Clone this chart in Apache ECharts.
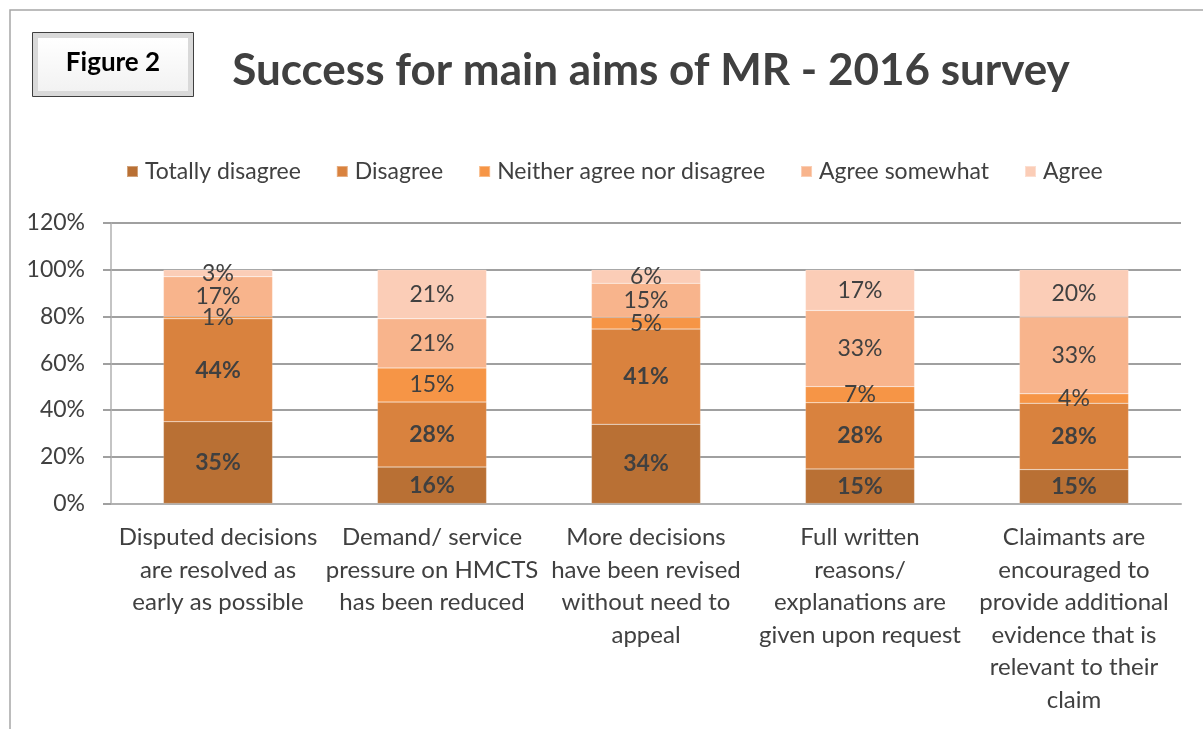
<!DOCTYPE html>
<html>
<head>
    <meta charset="utf-8">
    <title>Success for main aims of MR - 2016 survey</title>
    <script src="https://cdn.jsdelivr.net/npm/echarts@6/dist/echarts.min.js"></script>
    <style>
        html, body { margin: 0; padding: 0; background: #fff; }
        #chart1 { width: 1203px; height: 729px; }
    </style>
</head>
<body>
<div id="chart1"></div>
<script type="text/javascript">
    // categories and tick labels
    var aims = [
        'Disputed decisions\nare resolved as\nearly as possible',
        'Demand/ service\npressure on HMCTS\nhas been reduced',
        'More decisions\nhave been revised\nwithout need to\nappeal',
        'Full written\nreasons/\nexplanations are\ngiven upon request',
        'Claimants are\nencouraged to\nprovide additional\nevidence that is\nrelevant to their\nclaim'
    ];
    var yTicks = [0, 20, 40, 60, 80, 100, 120];

    // series values (percent of respondents, one per aim)
    var totallyDisagree = [35.0, 15.6, 33.9, 14.8, 14.5];
    var disagree        = [44.0, 27.8, 40.7, 28.3, 28.4];
    var neither         = [1.0, 14.6, 5.0, 6.9, 4.0];
    var agreeSomewhat   = [17.0, 21.0, 14.6, 32.6, 32.9];
    var agree           = [3.0, 21.0, 5.8, 17.4, 20.2];

    var seriesNames = ['Totally disagree', 'Disagree', 'Neither agree nor disagree', 'Agree somewhat', 'Agree'];
    var seriesData = [totallyDisagree, disagree, neither, agreeSomewhat, agree];
    var colors = ['#b97034', '#d9823e', '#f69546', '#f8b48c', '#fbcdb7'];

    var font = 'Lato, "Open Sans", sans-serif';
    var textColor = '#404040';
    var lineColor = '#a0a0a0';

    var myChart1 = echarts.init(document.getElementById('chart1'));

    var series = seriesData.map(function (d, i) {
        return {
            name: seriesNames[i],
            type: 'bar',
            stack: 'total',
            barWidth: '51%',
            data: d,
            itemStyle: { color: colors[i], borderColor: 'rgba(255,255,255,0.35)', borderWidth: 0.5 },
            label: {
                show: true,
                position: 'inside',
                color: textColor,
                fontFamily: font,
                fontSize: 23,
                fontWeight: i < 2 ? 'bold' : 'normal',
                formatter: function (p) { return Math.round(p.value) + '%'; }
            }
        };
    });

    myChart1.setOption({
        animation: false,
        color: colors,
        textStyle: { fontFamily: font },
        graphic: [
            // outer frame
            { type: 'rect', shape: { x: 10, y: 10, width: 1220, height: 740 },
              style: { fill: 'none', stroke: '#a6a6a6', lineWidth: 1.5 } },
            // "Figure 2" bevel box
            { type: 'rect', shape: { x: 32.5, y: 32.5, width: 161, height: 64 },
              style: { fill: '#d9d9d9', stroke: '#3f3f3f', lineWidth: 1 } },
            { type: 'rect', shape: { x: 38, y: 38, width: 150, height: 53 },
              style: { fill: new echarts.graphic.LinearGradient(0, 0, 0, 1, [
                  { offset: 0, color: '#ffffff' }, { offset: 1, color: '#f2f2f2' }]) } },
            { type: 'text',
              style: { text: 'Figure 2', x: 113, y: 63, textAlign: 'center', textVerticalAlign: 'middle',
                       font: 'bold 26px ' + font, fill: '#000' } },
            { type: 'text',
              style: { text: 'Success for main aims of MR - 2016 survey', x: 651, y: 71,
                       textAlign: 'center', textVerticalAlign: 'middle',
                       font: 'bold 44px ' + font, fill: textColor } }
        ],
        legend: {
            data: seriesNames,
            left: 121,
            top: 155,
            itemWidth: 11,
            itemHeight: 11,
            itemGap: 35,
            icon: 'rect',
            textStyle: { color: textColor, fontSize: 23, fontFamily: font, padding: [0, 0, 0, 2] }
        },
        grid: { left: 111, right: 22, top: 223, bottom: 225.5 },
        xAxis: {
            type: 'category',
            data: aims,
            axisLine: { lineStyle: { color: '#b0b0b0', width: 2 } },
            axisTick: { show: false },
            axisLabel: {
                interval: 0,
                margin: 18,
                color: textColor,
                fontFamily: font,
                fontSize: 24,
                lineHeight: 32.5
            }
        },
        yAxis: {
            type: 'value',
            min: yTicks[0],
            max: yTicks[yTicks.length - 1],
            interval: 20,
            axisLine: { show: true, lineStyle: { color: '#b0b0b0', width: 1.5 } },
            axisTick: { show: true, length: 8, lineStyle: { color: lineColor, width: 2 } },
            splitLine: { lineStyle: { color: lineColor, width: 2 } },
            axisLabel: {
                margin: 26,
                color: textColor,
                fontFamily: font,
                fontSize: 23,
                formatter: '{value}%'
            }
        },
        series: series
    });
</script>
</body>
</html>
